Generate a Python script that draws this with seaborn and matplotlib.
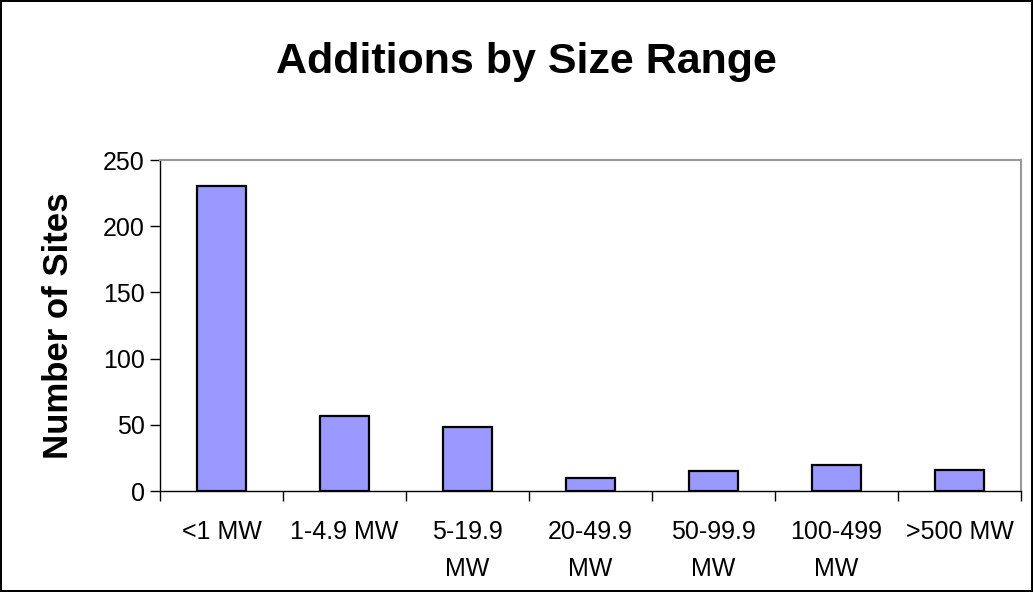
import numpy as np
import pandas as pd
import matplotlib
matplotlib.use("Agg")
import matplotlib.pyplot as plt
import seaborn as sns

categorias = ["<1 MW", "1-4.9 MW", "5-19.9\nMW", "20-49.9\nMW", "50-99.9\nMW", "100-499\nMW", ">500 MW"]
sites = [230, 57, 48, 10, 15, 20, 16]

df = pd.DataFrame({"faixa": categorias, "sites": sites})

sns.set_style("white")
plt.rcParams["font.family"] = ["Liberation Sans", "DejaVu Sans"]
plt.rcParams["text.color"] = "black"
plt.rcParams["xtick.color"] = "black"
plt.rcParams["ytick.color"] = "black"
plt.rcParams["axes.labelcolor"] = "black"

fig = plt.figure(figsize=(10.33, 5.92), dpi=100)
ax = fig.add_axes([0.1549, 0.1706, 0.8335, 0.5591])

sns.barplot(data=df, x="faixa", y="sites", color="#9999FF", edgecolor="black",
            linewidth=1.6, width=0.4, saturation=1, ax=ax)

ax.set_xlim(-0.5, len(categorias) - 0.5)
ax.set_ylim(0, 250)
ax.set_yticks(np.arange(0, 251, 50))

# ticks nas divisas das categorias, rotulos no centro
ax.set_xticks(np.arange(-0.5, len(categorias), 1), minor=True)
ax.tick_params(axis="x", which="major", length=0, pad=21, labelsize=18)
ax.tick_params(axis="x", which="minor", length=7, width=1, color="black", direction="out", bottom=True)
ax.tick_params(axis="y", length=7, width=1, color="black", direction="out", left=True, labelsize=18, pad=4)
for lbl in ax.get_xticklabels():
    lbl.set_linespacing(1.65)
    lbl.set_verticalalignment("top")

for s in ["left", "bottom"]:
    ax.spines[s].set_color("black")
    ax.spines[s].set_linewidth(1)
for s in ["top", "right"]:
    ax.spines[s].set_color("#999999")
    ax.spines[s].set_linewidth(1.5)

ax.set_xlabel("")
ax.set_ylabel("Number of Sites", fontsize=25, fontweight="bold", labelpad=20)
fig.text(0.51, 0.895, "Additions by Size Range", ha="center", va="center",
         fontsize=31, fontweight="bold")

fig.patch.set_edgecolor("black")
fig.patch.set_linewidth(1.5)

fig.savefig("out.png", dpi=100)
